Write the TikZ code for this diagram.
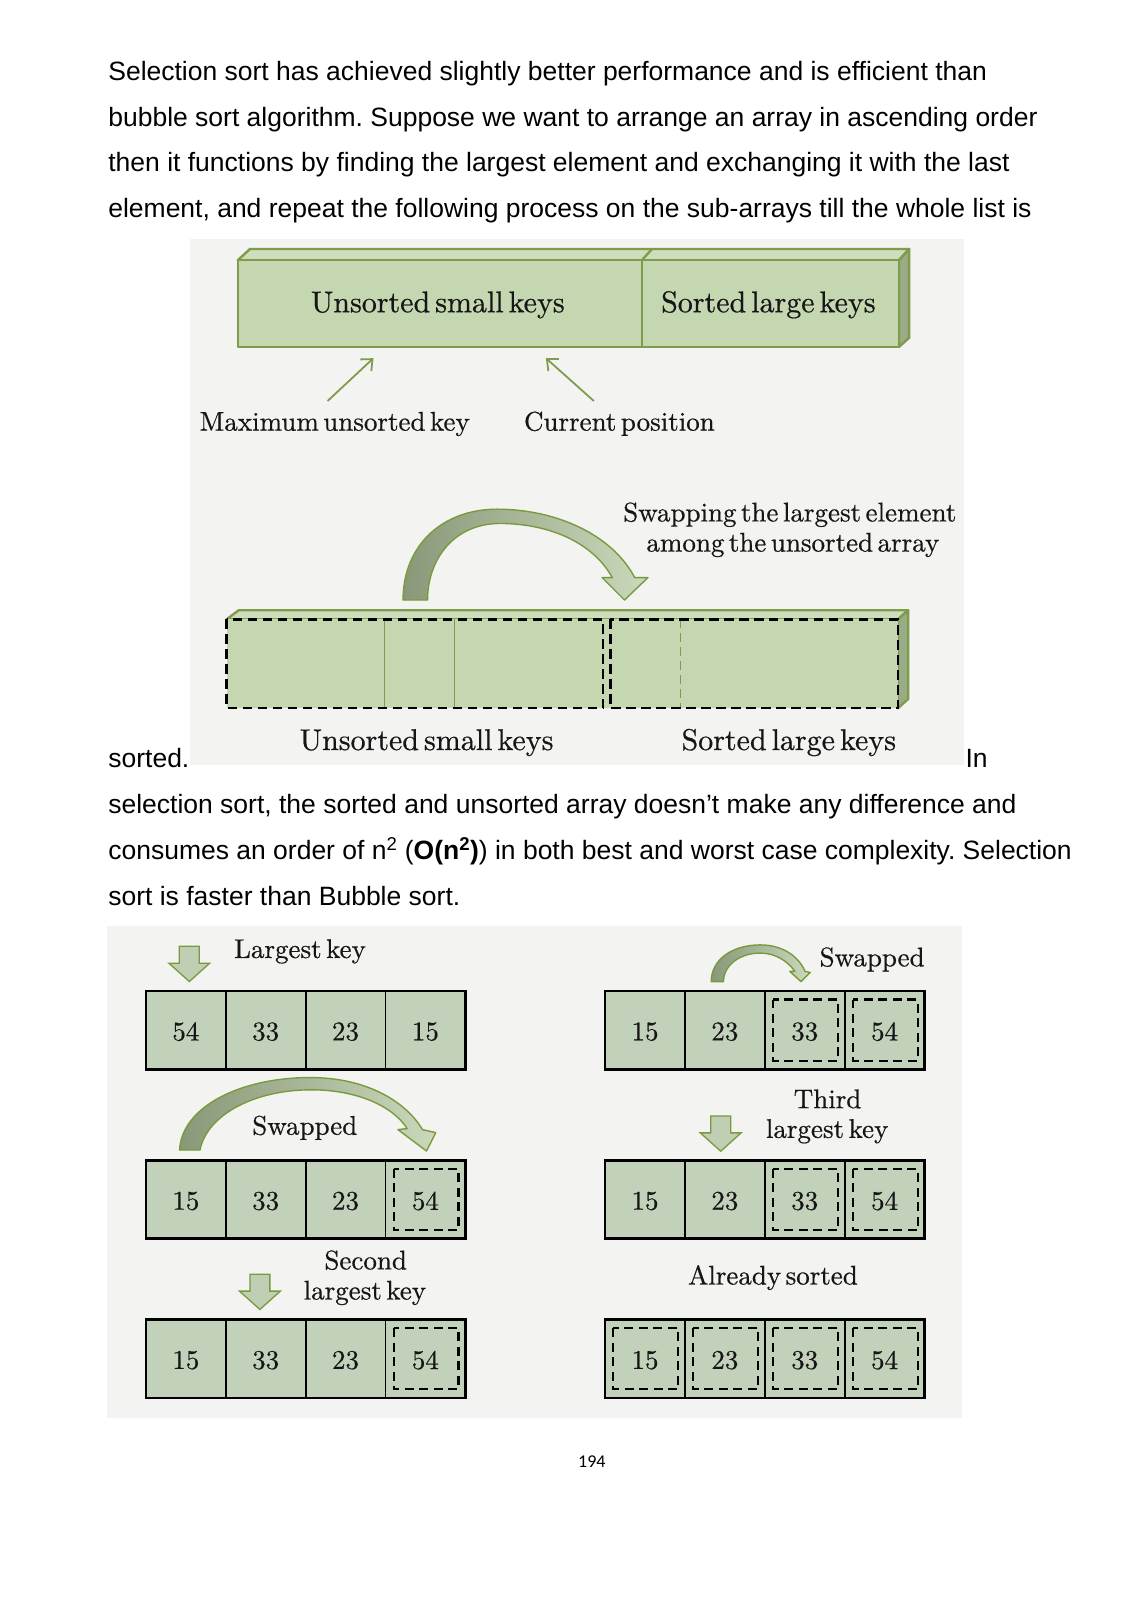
\documentclass[tikz,border=0pt]{standalone}
\usepackage{fontspec}
\usetikzlibrary{arrows.meta}
\frenchspacing
\newfontfamily\parafont{Liberation Sans}
\newfontfamily\pagefont{Carlito}
\newfontface\figfont{lmroman10-regular.otf}[FakeBold=0.55, WordSpace=0.5]
\definecolor{figbg}{HTML}{F3F3F1}
\definecolor{barfront}{HTML}{C4D7B0}
\definecolor{bartop}{HTML}{CEDEBD}
\definecolor{barside}{HTML}{9AAC86}
\definecolor{olivec}{HTML}{7E9C4C}
\definecolor{cellfill}{HTML}{C2D1B9}
\definecolor{arrdark}{HTML}{899878}
\definecolor{arrlight}{HTML}{CAD8BC}
\definecolor{arredge}{HTML}{7A9A3E}
\definecolor{blockfill}{HTML}{C0CEB4}
\definecolor{figtext}{HTML}{161616}

\tikzset{
 para/.style={font=\parafont\fontsize{26.5}{30}\selectfont, anchor=base west, inner sep=0pt},
 flabel/.style={font=\figfont\fontsize{27}{32}\selectfont, text=figtext, anchor=base, inner sep=0pt},
 blabel/.style={font=\figfont\fontsize{30}{34}\selectfont, text=figtext, anchor=base, inner sep=0pt},
 slabel/.style={font=\figfont\fontsize{27}{32}\selectfont, text=figtext, anchor=base, inner sep=0pt},
 numtxt/.style={font=\figfont\fontsize{27}{30}\selectfont, text=figtext, inner sep=0pt},
 cellbox/.style={fill=cellfill, draw=black, line width=1.8pt},
 innerdash/.style={draw=black, line width=2.2pt, dash pattern=on 9pt off 5.5pt},
 curvearrow/.style={left color=arrdark, right color=arrlight, draw=arredge, line width=1.4pt, line join=round},
 blockarrow/.style={fill=blockfill, draw=arredge, line width=1.3pt, line join=miter},
 thinarrow/.style={draw=olivec, line width=1.8pt, -{Straight Barb[length=9pt,width=16pt]}},
 baredge/.style={draw=olivec, line width=2.4pt, line join=round},
}

\newcommand\numcell[5]{%
  \filldraw[cellbox] (#2,#3) rectangle (#2+78.25,#3+77);
  \ifnum#5=1 \draw[innerdash] (#2+8,#3+8.5) rectangle (#2+71.5,#3+68.5);\fi
  \node[numtxt] (#1) at (#2+39.1,#3+40) {#4};
}
\newcommand\blockdn[3]{%
  \draw[blockarrow] (#2-9.75,#3) -- (#2+9.75,#3) -- (#2+9.75,#3+16.5) -- (#2+20,#3+16.5)
     -- (#2,#3+34.5) -- (#2-20,#3+16.5) -- (#2-9.75,#3+16.5) -- cycle;
  \coordinate (#1) at (#2,#3+34.5);
}

\begin{document}
\begin{tikzpicture}[x=1.0208pt,y=-1.0208pt]
\useasboundingbox (0,0) rectangle (1108,1568);
\fill[white] (0,0) rectangle (1108,1568);

% ---------- paragraph text ----------
\node[para] (p1) at (106,78.5) {Selection sort has achieved slightly better performance and is efficient than};
\node[para] (p2) at (106,123.5) {bubble sort algorithm. Suppose we want to arrange an array in ascending order};
\node[para] (p3) at (106,168.5) {then it functions by finding the largest element and exchanging it with the last};
\node[para] (p4) at (106,213.5) {element, and repeat the following process on the sub-arrays till the whole list is};

% ---------- top figure ----------
\fill[figbg] (186,234) rectangle (945,750);
% top bar
\filldraw[fill=bartop, baredge] (233,255) -- (245,244) -- (891,244) -- (881,255) -- cycle;
\filldraw[fill=barside, baredge] (881,255) -- (891,244) -- (891,331) -- (881,340) -- cycle;
\filldraw[fill=barfront, baredge] (233,255) rectangle (881,340);
\draw[baredge] (629,255) -- (629,340);
\draw[baredge] (629,255) -- (639,244);
\node[blabel] (usk1) at (429,306) {Unsorted small keys};
\node[blabel] (slk1) at (753,306) {Sorted large keys};
% pointer arrows
\coordinate (a1s) at (321,393); \coordinate (a1e) at (366,351);
\coordinate (a2s) at (582,393); \coordinate (a2e) at (535,351);
\draw[thinarrow] (a1s) -- (a1e);
\draw[thinarrow] (a2s) -- (a2e);
\node[flabel] (maxk) at (328,422) {Maximum unsorted key};
\node[flabel] (curp) at (607,422) {Current position};
% swap label
\node[flabel] (swp1) at (774,511) {Swapping the largest element};
\node[flabel] (swp2) at (777,540.5) {among the unsorted array};
% curved arrow
\shadedraw[curvearrow] (395,588) .. controls (395,533) and (435,499) .. (487,499)
  .. controls (545,499) and (600,524) .. (622,566) -- (635,566) -- (612,588) -- (590,566) -- (600,566)
  .. controls (582,533) and (540,513) .. (490,513) .. controls (445,513) and (419,548) .. (419,588) -- cycle;
% bottom bar
\filldraw[fill=bartop, baredge] (222,607) -- (234,598) -- (890,598) -- (880,607) -- cycle;
\filldraw[fill=barside, baredge] (880,607) -- (890,598) -- (890,685) -- (880,694) -- cycle;
\fill[barfront] (222,607) rectangle (880,694);
\draw[olivec, line width=1.2pt] (377,607) -- (377,694);
\draw[olivec, line width=1.2pt] (445.5,607) -- (445.5,694);
\draw[olivec, line width=1.6pt, dash pattern=on 9pt off 5pt] (667,607) -- (667,694);
\draw[black, line width=2.6pt, dash pattern=on 9.5pt off 5.5pt] (222,607) rectangle (591,694);
\draw[black, line width=2.6pt, dash pattern=on 9.5pt off 5.5pt] (598,607) rectangle (880,694);
\node[blabel] (usk2) at (418,735) {Unsorted small keys};
\node[blabel] (slk2) at (773,735) {Sorted large keys};

% ---------- text after figure ----------
\node[para] (p5) at (106,752.5) {sorted.};
\node[para] (p5b) at (946,752.5) {In};
\node[para] (p6) at (106,797.5) {selection sort, the sorted and unsorted array doesn’t make any difference and};
\node[para] (p7) at (106,842.5) {consumes an order of n\textsuperscript{2} (\textbf{O(n\textsuperscript{2})}) in both best and worst case complexity. Selection};
\node[para] (p8) at (106,887.5) {sort is faster than Bubble sort.};

% ---------- bottom figure ----------
\fill[figbg] (105,907) rectangle (943,1390);
% left column
\blockdn{d1}{185.5}{927.4}
\node[slabel] (lk1) at (294,938.8) {Largest key};
\numcell{l11}{143}{971}{54}{0}
\numcell{l12}{221.25}{971}{33}{0}
\numcell{l13}{299.5}{971}{23}{0}
\numcell{l14}{377.75}{971}{15}{0}
\draw[line width=2.6pt] (143,971) rectangle (456,1048);

\shadedraw[curvearrow] (176,1127) .. controls (178,1085) and (235,1056) .. (304,1056)
  .. controls (360,1056) and (398,1080) .. (414,1107) -- (427,1110) -- (418,1128) -- (390,1107) -- (399,1106)
  .. controls (385,1084) and (350,1068) .. (305,1068) .. controls (250,1068) and (203,1092) .. (196,1127) -- cycle;
\node[slabel] (sw1) at (298.7,1112) {Swapped};
\numcell{l21}{143}{1137}{15}{0}
\numcell{l22}{221.25}{1137}{33}{0}
\numcell{l23}{299.5}{1137}{23}{0}
\numcell{l24}{377.75}{1137}{54}{1}
\draw[line width=2.6pt] (143,1137) rectangle (456,1214);

\node[slabel] (sec1) at (358.4,1244) {Second};
\node[slabel] (sec2) at (357.6,1273.5) {largest key};
\blockdn{d2}{254.7}{1248.8}
\numcell{l31}{143}{1293}{15}{0}
\numcell{l32}{221.25}{1293}{33}{0}
\numcell{l33}{299.5}{1293}{23}{0}
\numcell{l34}{377.75}{1293}{54}{1}
\draw[line width=2.6pt] (143,1293) rectangle (456,1370);

% right column
\shadedraw[curvearrow] (697,962) .. controls (697,940) and (718,926) .. (745,926)
  .. controls (768,926) and (783,938) .. (789,952) -- (794,953) -- (785,962) -- (774,952) -- (779,952)
  .. controls (772,942) and (760,934) .. (745,934) .. controls (725,934) and (709,946) .. (709,962) -- cycle;
\node[slabel] (sw2) at (854.7,947) {Swapped};
\numcell{r11}{593}{971}{15}{0}
\numcell{r12}{671.25}{971}{23}{0}
\numcell{r13}{749.5}{971}{33}{1}
\numcell{r14}{827.75}{971}{54}{1}
\draw[line width=2.6pt] (593,971) rectangle (906,1048);

\node[slabel] (th1) at (811,1086) {Third};
\node[slabel] (th2) at (810.6,1115.1) {largest key};
\blockdn{d3}{706.3}{1093.7}
\numcell{r21}{593}{1137}{15}{0}
\numcell{r22}{671.25}{1137}{23}{0}
\numcell{r23}{749.5}{1137}{33}{1}
\numcell{r24}{827.75}{1137}{54}{1}
\draw[line width=2.6pt] (593,1137) rectangle (906,1214);

\node[slabel] (as) at (757.5,1258.8) {Already sorted};
\numcell{r31}{593}{1293}{15}{1}
\numcell{r32}{671.25}{1293}{23}{1}
\numcell{r33}{749.5}{1293}{33}{1}
\numcell{r34}{827.75}{1293}{54}{1}
\draw[line width=2.6pt] (593,1293) rectangle (906,1370);

% page number
\node[font=\pagefont\fontsize{18}{20}\selectfont, inner sep=0pt] (pg) at (580,1432) {194};
\end{tikzpicture}
\end{document}
